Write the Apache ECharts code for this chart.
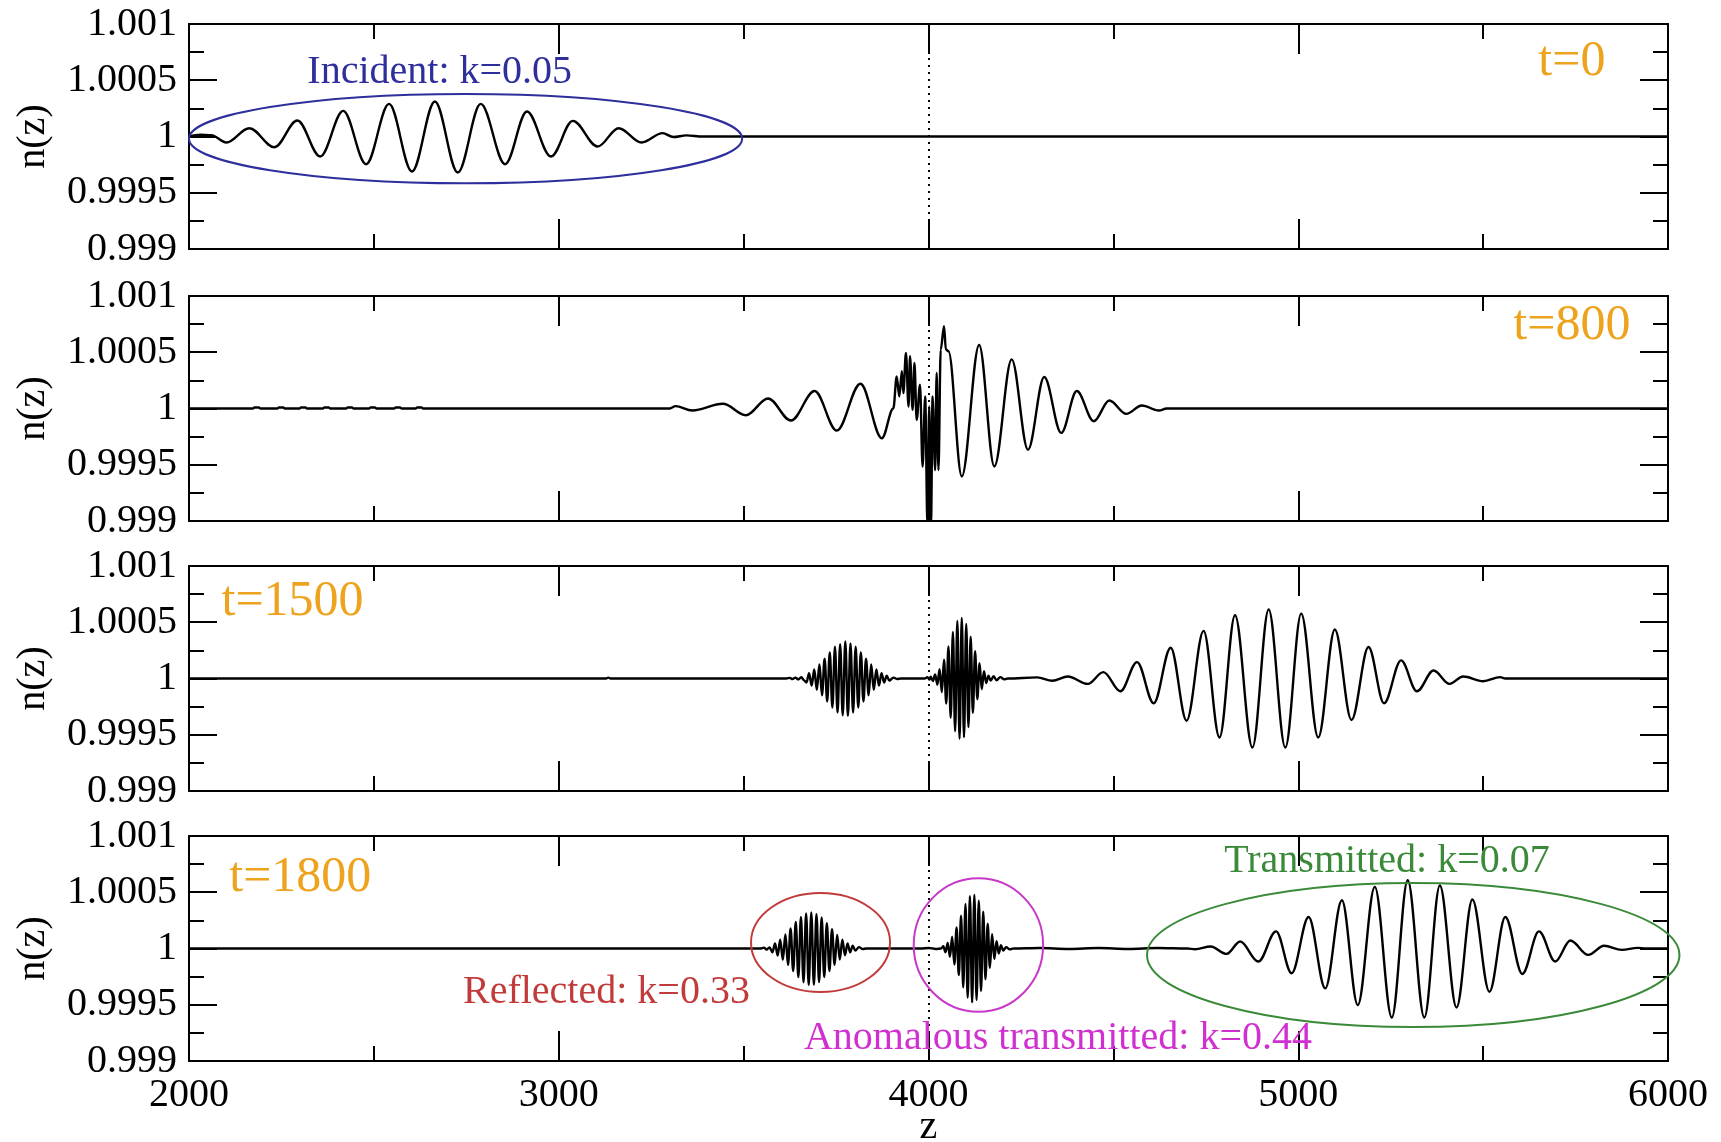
<!DOCTYPE html>
<html><head><meta charset="utf-8">
<script src="https://cdn.jsdelivr.net/npm/echarts@6/dist/echarts.min.js"></script>
<style>html,body{margin:0;padding:0;background:#fff;}#c{width:1721px;height:1142px;}</style>
</head><body><div id="c"></div>
<script>
// ---------------- data ----------------
const zTicks = [2000, 3000, 4000, 5000, 6000];
const nTickLabels = ['0.999', '0.9995', '1', '1.0005', '1.001'];
const panelTimes = ['t=0', 't=800', 't=1500', 't=1800'];

// t = 0 : incident packet
const wave_t0 = [
 [2000,1.0],[2030,1.000015],[2060,1.000012],[2101,0.999947],[2163,1.000074],[2231,0.999905],
 [2293,1.000142],[2355,0.999822],[2417,1.000228],[2479,0.999754],[2541,1.00029],[2603,0.999689],
 [2665,1.000311],[2727,0.99968],[2789,1.00029],[2855,0.999754],[2914,1.000222],[2979,0.999822],
 [3038,1.000139],[3105,0.999911],[3162,1.000074],[3224,0.999947],[3281,1.00003],[3310,0.999995],
 [3345,1.00001],[3390,1.0],[6000,1.0]
];

// t = 800 : packet hitting the interface at z = 4000
const wave_t800 = [
 [2000,1],[2173,1],[2177,1.000009],[2189,1.000009],[2193,1],
 [2239,1],[2243,1.000009],[2255,1.000009],[2259,1],
 [2299,1],[2303,1.000009],[2315,1.000009],[2319,1],
 [2362,1],[2366,1.000009],[2378,1.000009],[2382,1],
 [2425,1],[2429,1.000009],[2441,1.000009],[2445,1],
 [2487,1],[2491,1.000009],[2503,1.000009],[2507,1],
 [2555,1],[2559,1.000009],[2571,1.000009],[2575,1],
 [2613,1],[2617,1.000009],[2629,1.000009],[2633,1],
 [3300,1],[3316,1.000021],[3361,0.999982],[3444,1.000042],[3506,0.99994],[3566,1.000089],
 [3628,0.999893],[3692,1.000155],[3752,0.999804],[3816,1.00022],[3874,0.999735],[3905,1.0],
 [3914,1.000286],[3921,1.000107],[3928,1.000331],[3932,1.000137],[3939,1.000494],[3946,1.000018],
 [3950,1.000464],[3957,0.999988],[3962,1.000405],[3968,0.999899],[3977,1.000211],[3984,0.999482],
 [3991,1.000107],[3997,0.999],[4002,1.000018],[4007,0.999],[4011,1.000107],[4018,0.999452],
 [4022,1.000315],[4027,0.999452],[4033,1.000524],[4042,1.000732],[4047,1.000524],[4054,1.000509],
 [4090,0.999396],[4137,1.000565],[4178,0.999485],[4225,1.000437],[4269,0.999634],[4313,1.00028],
 [4359,0.999783],[4401,1.000155],[4447,0.999887],[4489,1.000071],[4535,0.999952],[4577,1.000027],
 [4623,0.999982],[4644,1],[6000,1]
];

// t = 1500 : reflected, anomalous transmitted and transmitted packets
const wave_t1500 = [
 [2000,1],[3128,1],[3134,1.000008],[3140,1],
 [3615,1],[3625,1.000006],[3632,0.999995],[3640,1.000008],[3648,0.999992],[3656,1.000012],[3663,0.999985],
 [3670,0.999964],[3677,1.000048],[3684,0.999937],[3691,1.00008],[3698,0.999899],[3705,1.000124],
 [3712,0.999851],[3719,1.000176],[3726,0.999796],[3733,1.000232],[3740,0.999742],[3747,1.000282],
 [3754,0.999698],[3761,1.000305],[3768,0.999673],[3775,1.00033],[3782,0.999668],[3789,1.000312],
 [3796,0.999698],[3803,1.000282],[3810,0.999742],[3817,1.000232],[3824,0.999796],[3831,1.000176],
 [3838,0.999851],[3845,1.000124],[3852,0.999899],[3859,1.00008],[3866,0.999937],[3873,1.000048],
 [3880,0.999964],[3887,1.000026],[3894,0.999981],[3905,1.000008],[3915,0.999996],[3925,1],
 [3990,1],[3997,1.000012],[4003,0.99999],[4006,1.000015],[4012,0.999978],[4018,1.000036],
 [4024,0.999945],[4030,1.000083],[4036,0.99988],[4042,1.000167],[4048,0.999778],[4054,1.000284],
 [4060,0.999651],[4066,1.000413],[4072,0.999532],[4078,1.000511],[4084,0.999465],[4090,1.000539],
 [4096,0.999479],[4102,1.000484],[4108,0.999568],[4114,1.000371],[4120,0.999694],[4126,1.000242],
 [4132,0.999816],[4138,1.000135],[4144,0.999905],[4150,1.000064],[4156,0.999959],[4162,1.000026],
 [4168,0.999982],[4176,1.00002],[4184,0.999985],[4194,1.000012],[4205,0.999992],[4215,1],
 [4294,1.00001],[4335,0.99998],[4377,1.000018],[4431,0.999952],[4473,1.000057],[4519,0.999887],
 [4564,1.000146],[4609,0.99978],[4655,1.000274],[4698,0.999625],[4744,1.000423],[4787,0.999476],
 [4829,1.000562],[4876,0.999387],[4920,1.000613],[4965,0.999387],[5008,1.000577],[5054,0.999476],
 [5099,1.000435],[5144,0.999631],[5190,1.00028],[5232,0.99978],[5278,1.000161],[5321,0.999887],
 [5366,1.000071],[5409,0.999952],[5446,1.000018],[5500,0.999976],[5546,1.000012],[5560,1],[6000,1]
];

// t = 1800 : the three packets separated
const wave_t1800 = [
 [2000,1],[3545,1],[3555,1.000008],[3562,0.99999],[3570,1.00001],
 [3578,0.999966],[3585,1.000046],[3592,0.999938],[3599,1.000079],[3606,0.9999],[3613,1.000125],
 [3620,0.999854],[3627,1.000178],[3634,0.9998],[3641,1.000235],[3648,0.999746],[3655,1.00028],
 [3662,0.9997],[3669,1.000312],[3676,0.999676],[3683,1.00032],[3690,0.999678],[3697,1.000306],
 [3704,0.999702],[3711,1.000275],[3718,0.999746],[3725,1.000226],[3732,0.9998],[3739,1.000172],
 [3746,0.999855],[3753,1.000121],[3760,0.999902],[3767,1.000078],[3774,0.99994],[3781,1.000046],
 [3788,0.999966],[3795,1.000025],[3802,0.999982],[3812,1.000012],[3822,0.999995],[3832,1],
 [3980,1],[4000,1.000005],[4020,0.999996],[4034,1],
 [4040,1.000021],[4046,0.999967],[4052,1.00005],[4058,0.999927],[4064,1.000104],[4070,0.999858],
 [4076,1.000187],[4082,0.999763],[4088,1.000291],[4094,0.999655],[4100,1.000395],[4106,0.999564],
 [4112,1.000465],[4118,0.999521],[4124,1.000476],[4130,0.999543],[4136,1.000424],[4142,0.999621],
 [4148,1.000327],[4154,0.999727],[4160,1.00022],[4166,0.999829],[4172,1.000128],[4178,0.999907],
 [4184,1.000065],[4190,0.999956],[4196,1.000029],[4202,0.999982],[4210,1.000012],[4220,0.999992],
 [4230,1],[4300,1.000004],[4380,0.999996],[4460,1.000004],[4540,0.999996],[4620,1.000004],[4700,1],
 [4721,0.999994],[4763,1.000018],[4806,0.999952],[4843,1.000062],[4892,0.999884],[4940,1.000152],
 [4982,0.99978],[5028,1.00028],[5073,0.999646],[5118,1.000429],[5161,0.999497],[5207,1.000548],
 [5253,0.999387],[5296,1.000607],[5341,0.999387],[5383,1.00056],[5428,0.999476],[5471,1.000435],
 [5517,0.999616],[5560,1.00028],[5606,0.999774],[5651,1.000152],[5695,0.999884],[5736,1.000071],
 [5784,0.999943],[5827,1.000024],[5875,0.999988],[5918,1.000006],[5940,1],[6000,1]
];

const waves = [wave_t0, wave_t800, wave_t1500, wave_t1800];
const interfaceZ = 4000;

// annotations (data units)
const ellipses = [
 {panel:0, cz:2748, cn:0.999981, rz:748, rn:0.000397, color:'#2e2e9c'},
 {panel:3, cz:3708, cn:1.000053, rz:188, rn:0.00044,  color:'#c23b3b'},
 {panel:3, cz:4135, cn:1.000031, rz:175, rn:0.000593, color:'#c838c8'},
 {panel:3, cz:5311, cn:0.999942, rz:720, rn:0.00064,  color:'#3a8a3a'}
];
const notes = [
 {panel:0, z:2678, n:1.00057,  text:'Incident: k=0.05', color:'#2e2e9c'},
 {panel:3, z:3129, n:0.999605, text:'Reflected: k=0.33', color:'#c23b3b'},
 {panel:3, z:4350, n:0.999200, text:'Anomalous transmitted: k=0.44', color:'#d030d0'},
 {panel:3, z:5240, n:1.000770, text:'Transmitted: k=0.07', color:'#3a8a3a'}
];
const timePos = [[5740,1.000667],[5740,1.000733],[2280,1.000684],[2301,1.000627]];

// ---------------- chart ----------------
const FONT = '"Liberation Serif", "DejaVu Serif", serif';
const tops = [24, 296, 566, 836];
const grids = [], xAxes = [], yAxes = [], series = [];
const blackLine = {color:'#000', width:2};

tops.forEach((top, i) => {
  grids.push({left:189, width:1479, top:top, height:225, outerBoundsMode:'none', containLabel:false});
  ['bottom','top'].forEach(pos => {
    const main = (pos === 'bottom' && i === 3);
    xAxes.push({
      type:'value', gridIndex:i, position:pos, min:zTicks[0], max:zTicks[zTicks.length-1],
      interval:zTicks[1]-zTicks[0],
      axisLine:{show:true, onZero:false, lineStyle:blackLine},
      axisTick:{show:true, inside:true, length:30, lineStyle:blackLine},
      minorTick:{show:true, splitNumber:2, length:15, lineStyle:blackLine},
      splitLine:{show:false}, minorSplitLine:{show:false},
      axisLabel:{show:main, margin:14, fontFamily:FONT, fontSize:40, color:'#000',
                 showMinLabel:true, showMaxLabel:true,
                 formatter: v => String(Math.round(v))},
      name: main ? 'z' : '', nameLocation:'middle', nameGap:46, nameMoveOverlap:false,
      nameTextStyle:{fontFamily:FONT, fontSize:40, color:'#000'}
    });
  });
  ['left','right'].forEach(pos => {
    const main = pos === 'left';
    yAxes.push({
      type:'value', gridIndex:i, position:pos, min:0.999, max:1.001, interval:0.0005,
      axisLine:{show:true, onZero:false, lineStyle:blackLine},
      axisTick:{show:true, inside:true, length:28, lineStyle:blackLine},
      minorTick:{show:true, splitNumber:2, length:15, lineStyle:blackLine},
      splitLine:{show:false}, minorSplitLine:{show:false},
      axisLabel:{show:main, margin:12, fontFamily:FONT, fontSize:40, color:'#000',
                 showMinLabel:true, showMaxLabel:true,
                 formatter: v => {
                   const s = String(+(+v).toFixed(4));
                   return nTickLabels.indexOf(s) >= 0 ? s : '';
                 }},
      name: main ? 'n(z)' : '', nameLocation:'middle', nameRotate:90, nameGap:136, nameMoveOverlap:false,
      nameTextStyle:{fontFamily:FONT, fontSize:40, color:'#000'}
    });
  });
  series.push({
    type:'line', xAxisIndex:2*i, yAxisIndex:2*i, data:waves[i],
    symbol:'none', showSymbol:false, smooth:0.35, smoothMonotone:'x',
    lineStyle:{color:'#000', width:2.4}, animation:false, silent:true,
    markLine:{silent:true, symbol:['none','none'], label:{show:false}, animation:false,
      lineStyle:{color:'#000', width:2, type:[2,5]},
      data:[{xAxis:interfaceZ}]}
  });
});

const chart = echarts.init(document.getElementById('c'), null, {renderer:'canvas'});
chart.setOption({animation:false, backgroundColor:'#fff', grid:grids, xAxis:xAxes, yAxis:yAxes, series:series});

function px(panel, z, n) {
  return chart.convertToPixel({xAxisIndex:2*panel, yAxisIndex:2*panel}, [z, n]);
}
const graphics = [];
ellipses.forEach(e => {
  const c = px(e.panel, e.cz, e.cn);
  const r1 = px(e.panel, e.cz + e.rz, e.cn);
  const r2 = px(e.panel, e.cz, e.cn + e.rn);
  graphics.push({type:'ellipse', silent:true, z:50,
    shape:{cx:c[0], cy:c[1], rx:Math.abs(r1[0]-c[0]), ry:Math.abs(c[1]-r2[1])},
    style:{fill:'rgba(0,0,0,0)', stroke:e.color, lineWidth:2}});
});
notes.forEach(t => {
  const p = px(t.panel, t.z, t.n);
  graphics.push({type:'text', silent:true, z:60, x:p[0], y:p[1],
    style:{text:t.text, fill:t.color, fontFamily:FONT, fontSize:40, align:'center', verticalAlign:'middle'}});
});
panelTimes.forEach((t, i) => {
  const p = px(i, timePos[i][0], timePos[i][1]);
  graphics.push({type:'text', silent:true, z:60, x:p[0], y:p[1],
    style:{text:t, fill:'#eea31e', fontFamily:FONT, fontSize:50, align:'center', verticalAlign:'middle'}});
});
chart.setOption({graphic:graphics});
</script></body></html>
